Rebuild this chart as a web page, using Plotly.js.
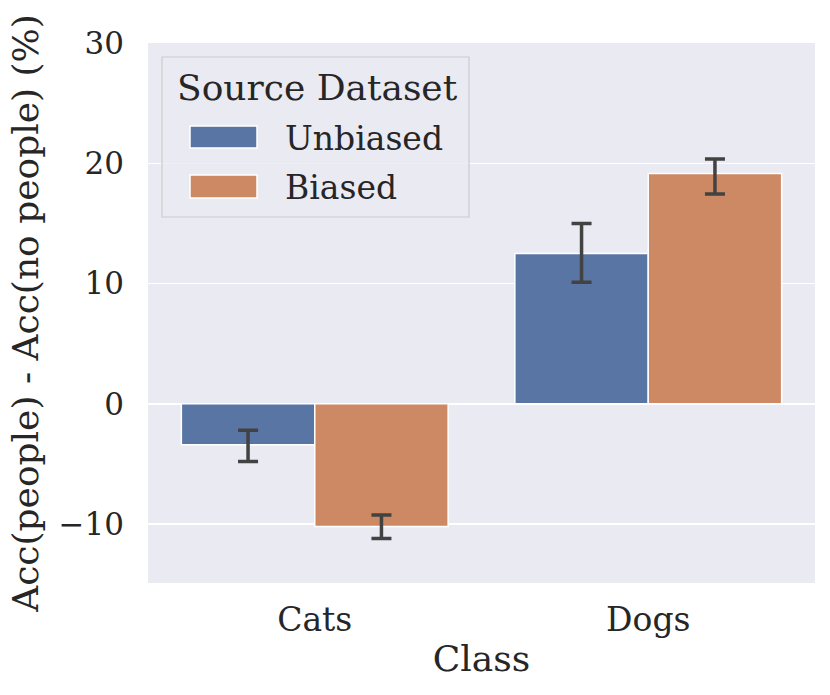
<!DOCTYPE html>
<html>
<head>
<meta charset="utf-8">
<script src="https://cdn.plot.ly/plotly-3.0.1.min.js"></script>
<style>html,body{margin:0;padding:0;background:#fff;}#chart{width:830px;height:695px;}</style>
</head>
<body>
<div id="chart"></div>
<script>
// Data
const categories = ["Cats", "Dogs"];
const seriesNames = ["Unbiased", "Biased"];
const unbiasedValues = [-3.4, 12.5];
const unbiasedErrPlus = [1.2, 2.5];
const unbiasedErrMinus = [1.4, 2.4];
const biasedValues = [-10.2, 19.15];
const biasedErrPlus = [0.95, 1.2];
const biasedErrMinus = [1.0, 1.7];
const yTickVals = [-10, 0, 10, 20, 30];
const yTickText = ["\u221210", "0", "10", "20", "30"];

const colors = ["#5975A4", "#CC8963"];
const errColor = "#424242";
const FONT = "DejaVu Serif";
const TICK = 33, YTICK = 31, LABEL = 36;

// Figure geometry (pixels)
const W = 830, H = 695;
const L = 148, R = 15, T = 43, B = 112;
const pw = W - L - R, ph = H - T - B;
const px = x => (x - L) / pw;
const py = y => (H - B - y) / ph;

function barTrace(name, vals, ep, em, color) {
  return {
    type: "bar", name: name, x: categories, y: vals,
    marker: {color: color, line: {color: "#ffffff", width: 1.5}},
    error_y: {type: "data", symmetric: false, array: ep, arrayminus: em,
              color: errColor, thickness: 3.5, width: 10},
    showlegend: false, hoverinfo: "skip"
  };
}

const data = [
  barTrace(seriesNames[0], unbiasedValues, unbiasedErrPlus, unbiasedErrMinus, colors[0]),
  barTrace(seriesNames[1], biasedValues, biasedErrPlus, biasedErrMinus, colors[1])
];

// Custom legend (decoration)
const shapes = [
  {type: "rect", xref: "paper", yref: "paper", layer: "above",
   x0: px(162), x1: px(469), y0: py(217), y1: py(57),
   fillcolor: "rgba(234,234,242,0.8)", line: {color: "#cccccc", width: 1.2}},
  {type: "rect", xref: "paper", yref: "paper", layer: "above",
   x0: px(190), x1: px(257), y0: py(148), y1: py(126),
   fillcolor: colors[0], line: {color: "#ffffff", width: 1.5}},
  {type: "rect", xref: "paper", yref: "paper", layer: "above",
   x0: px(190), x1: px(257), y0: py(198), y1: py(175),
   fillcolor: colors[1], line: {color: "#ffffff", width: 1.5}}
];
const annFont = {family: FONT, size: TICK, color: "#262626"};
const annotations = [
  {xref: "paper", yref: "paper", x: px(317), y: py(87), xanchor: "center", yanchor: "middle",
   text: "Source Dataset", showarrow: false, font: {family: FONT, size: LABEL, color: "#262626"}},
  {xref: "paper", yref: "paper", x: px(283), y: py(138), xanchor: "left", yanchor: "middle",
   text: seriesNames[0], showarrow: false, font: annFont},
  {xref: "paper", yref: "paper", x: px(283), y: py(187), xanchor: "left", yanchor: "middle",
   text: seriesNames[1], showarrow: false, font: annFont}
];

const layout = {
  width: W, height: H,
  margin: {l: L, r: R, t: T, b: B, pad: 0},
  paper_bgcolor: "#ffffff",
  plot_bgcolor: "#EAEAF2",
  barmode: "group", bargap: 0.2, bargroupgap: 0,
  font: {family: FONT, size: TICK, color: "#262626"},
  xaxis: {
    range: [-0.5, 1.5], showgrid: false, zeroline: false, showline: false,
    ticks: "", ticklabelstandoff: 14,
    tickfont: {family: FONT, size: TICK, color: "#262626"},
    title: {text: "Class", font: {family: FONT, size: LABEL, color: "#262626"}, standoff: 7}
  },
  yaxis: {
    range: [-14.9, 30], tickvals: yTickVals, ticktext: yTickText,
    showgrid: true, gridcolor: "#ffffff", gridwidth: 1.5,
    zeroline: false, showline: false, ticks: "", ticklabelstandoff: 23,
    tickfont: {family: FONT, size: YTICK, color: "#262626"},
    title: {text: "Acc(people) - Acc(no people) (%)", font: {family: FONT, size: LABEL, color: "#262626"}, standoff: 8}
  },
  shapes: shapes,
  annotations: annotations
};

Plotly.newPlot("chart", data, layout, {displayModeBar: false, staticPlot: true});
</script>
</body>
</html>
